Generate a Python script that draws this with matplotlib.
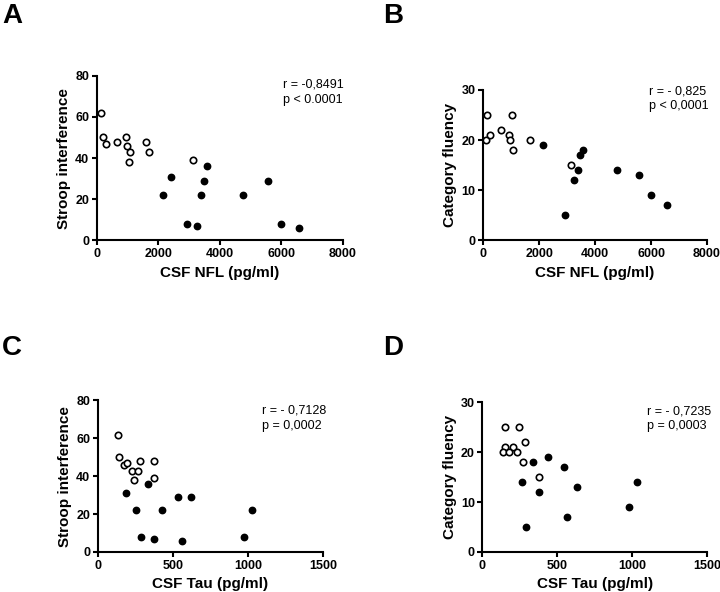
import matplotlib
matplotlib.use("Agg")
import matplotlib.pyplot as plt

plt.rcParams['font.family'] = ['Liberation Sans', 'DejaVu Sans']

# panel A: CSF NFL vs Stroop interference
nfl_open_a = [140, 195, 292, 660, 951, 995, 1081, 1038, 1611, 1697, 3135]
stroop_open_a = [62, 50, 47, 48, 50, 46, 43, 38, 48, 43, 39]
nfl_fill_a = [2151, 2400, 2919, 3254, 3395, 3481, 3578, 4768, 5557, 6000, 6584]
stroop_fill_a = [22, 31, 8, 7, 22, 29, 36, 22, 29, 8, 6]

# panel B: CSF NFL vs category fluency
nfl_open_b = [155, 119, 262, 644, 930, 966, 1014, 1062, 1670, 3125]
fluency_open_b = [25, 20, 21, 22, 21, 20, 25, 18, 20, 15]
nfl_fill_b = [2135, 2910, 3244, 3387, 3470, 3578, 4782, 5557, 6000, 6583]
fluency_fill_b = [19, 5, 12, 14, 17, 18, 14, 13, 9, 7]

# panel C: CSF Tau vs Stroop interference
tau_open_c = [133, 142, 175, 197, 226, 239, 266, 281, 372, 377]
stroop_open_c = [62, 50, 46, 47, 43, 38, 43, 48, 48, 39]
tau_fill_c = [186, 257, 286, 332, 372, 430, 534, 561, 623, 977, 1026]
stroop_fill_c = [31, 22, 8, 36, 7, 22, 29, 6, 29, 8, 22]

# panel D: CSF Tau vs category fluency
tau_open_d = [149, 245, 149, 203, 138, 180, 232, 287, 274, 381]
fluency_open_d = [25, 25, 21, 21, 20, 20, 20, 22, 18, 15]
tau_fill_d = [265, 294, 341, 379, 437, 543, 568, 630, 982, 1033]
fluency_fill_d = [14, 5, 18, 12, 19, 17, 7, 13, 9, 14]

fig = plt.figure(figsize=(7.2, 5.92), dpi=100)

panels = [
    ('A', [0.1343, 0.594, 0.342, 0.278], nfl_open_a, stroop_open_a, nfl_fill_a, stroop_fill_a,
     8000, [0, 2000, 4000, 6000, 8000], 80, [0, 20, 40, 60, 80],
     'CSF NFL (pg/ml)', 'Stroop interference', 'r = -0,8491\np < 0.0001', (0.755, 0.90)),
    ('B', [0.671, 0.594, 0.311, 0.254], nfl_open_b, fluency_open_b, nfl_fill_b, fluency_fill_b,
     8000, [0, 2000, 4000, 6000, 8000], 30, [0, 10, 20, 30],
     'CSF NFL (pg/ml)', 'Category fluency', 'r = - 0,825\np < 0,0001', (0.74, 0.94)),
    ('C', [0.1357, 0.0676, 0.313, 0.256], tau_open_c, stroop_open_c, tau_fill_c, stroop_fill_c,
     1500, [0, 500, 1000, 1500], 80, [0, 20, 40, 60, 80],
     'CSF Tau (pg/ml)', 'Stroop interference', 'r = - 0,7128\np = 0,0002', (0.73, 0.883)),
    ('D', [0.670, 0.0676, 0.312, 0.253], tau_open_d, fluency_open_d, tau_fill_d, fluency_fill_d,
     1500, [0, 500, 1000, 1500], 30, [0, 10, 20, 30],
     'CSF Tau (pg/ml)', 'Category fluency', 'r = - 0,7235\np = 0,0003', (0.733, 0.887)),
]

for (letter, rect, xo, yo, xf, yf, xmax, xticks, ymax, yticks,
     xlabel, ylabel, stat, tpos) in panels:
    ax = fig.add_axes(rect)
    ax.plot(xo, yo, 'o', ms=4.6, mfc='white', mec='black', mew=1.2, clip_on=False)
    ax.plot(xf, yf, 'o', ms=4.6, mfc='black', mec='black', mew=1.0, clip_on=False)
    ax.set_xlim(0, xmax)
    ax.set_ylim(0, ymax)
    ax.set_xticks(xticks)
    ax.set_yticks(yticks)
    for s in ['top', 'right']:
        ax.spines[s].set_visible(False)
    for s in ['left', 'bottom']:
        ax.spines[s].set_linewidth(1.5)
    ax.tick_params(width=1.5, length=3.5, labelsize=9, pad=2)
    for lab in ax.get_xticklabels() + ax.get_yticklabels():
        lab.set_fontweight('bold')
    ax.set_xlabel(xlabel, fontsize=11, fontweight='bold', labelpad=4)
    ax.set_ylabel(ylabel, fontsize=11, fontweight='bold', labelpad=3)
    ax.text(tpos[0], tpos[1], stat, transform=ax.transAxes, fontsize=9,
            ha='left', va='center', linespacing=1.3)

    # panel letter
    lx = 0.003 if letter in 'AC' else 0.532
    ly = 0.995 if letter in 'AB' else 0.434
    fig.text(lx, ly, letter, fontsize=20, fontweight='bold', ha='left', va='top')

fig.savefig('out.png', dpi=100)
